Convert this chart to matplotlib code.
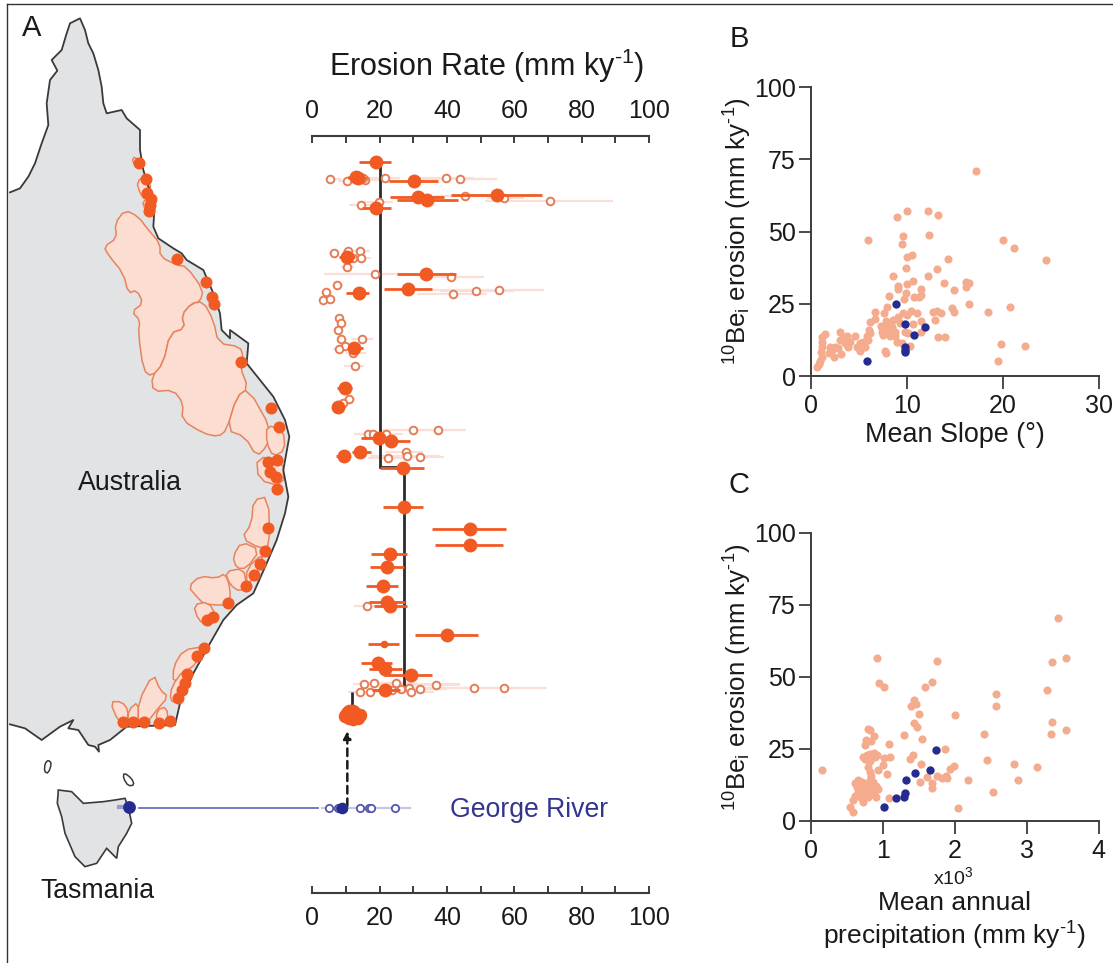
import matplotlib
matplotlib.use("Agg")
import matplotlib.pyplot as plt
from matplotlib.patches import Polygon

plt.rcParams['font.family'] = ['Liberation Sans', 'DejaVu Sans']
plt.rcParams['mathtext.default'] = 'regular'

# ---------- Panel A: filled sites (mean, low, high, row) ----------
fill_mean = [18.8,13.0,13.5,30.2,31.5,54.8,34.2,18.8,10.2,33.9,28.4,13.9,12.5,9.7,7.7,19.7,23.5,14.3,9.3,26.8,27.1,46.8,46.8,23.2,22.3,21.1,22.3,23.0,40.1,19.4,21.7,29.2,21.6]
fill_low  = [13.8,10.5,10.5,22.8,23.1,41.1,25.1,14.7,8.0,25.1,21.3,10.0,10.7,7.4,5.9,14.6,20.2,11.8,7.1,20.2,20.9,35.6,36.3,17.5,17.0,16.0,16.7,18.2,30.6,14.6,16.7,21.2,17.7]
fill_high = [23.3,15.5,16.0,37.2,39.2,68.2,43.2,23.3,12.7,42.7,35.5,16.9,15.2,11.7,9.5,24.5,29.1,17.4,11.3,33.1,32.9,57.5,56.5,28.1,27.1,25.6,27.6,28.1,49.1,23.7,26.6,35.5,26.1]
fill_row  = [162,177,178,181,197,195,200,208,257,274,289,293,348,388,407,438,441,452,456,468,507,529,545,554,567,586,602,606,635,663,669,675,690]

small_mean, small_low, small_high, small_row = [21.4], [16.6], [25.8], [644]

# Cluster of overlapping southern sites
cluster_mean = [9.8,10.4,11.0,11.6,12.2,12.8,14.2,10.8,12.0,13.6,11.4]
cluster_low  = [8.2,8.6,9.0,9.5,10.0,10.5,11.0,8.8,9.6,10.4,9.2]
cluster_high = [11.0,12.2,13.0,14.0,14.6,15.4,16.0,13.0,14.4,15.6,13.6]
cluster_row  = [716,713,711,711,711,713,715,718,719,718,715]

# ---------- Panel A: open sites ----------
open_mean = [5.2,10.3,15.8,15.0,21.6,39.8,43.9,45.4,57.0,70.7,14.6,19.9,6.3,10.7,14.2,14.5,12.2,10.4,18.6,41.1,7.3,4.1,3.3,5.2,41.8,48.7,55.4,7.9,8.4,7.6,8.6,14.9,9.8,7.9,12.2,12.7,11.0,9.2,16.6,18.0,21.9,29.9,37.2,27.7,28.1,22.4,32.1,16.2,15.4,18.3,25.0,36.6,14.1,17.0,26.4,28.6,29.4,32.1,23.7,47.9,57.0]
open_low  = [4.0,7.5,11.0,11.0,17.0,32.0,32.5,36.0,52.0,51.3,11.0,15.0,5.0,9.0,11.0,10.5,10.0,8.5,3.5,33.0,6.2,3.2,2.6,4.2,31.0,38.0,35.5,7.0,7.5,6.3,7.5,11.5,8.0,6.2,10.0,9.5,9.5,7.5,12.5,14.0,17.5,20.5,30.0,21.5,17.0,16.5,24.0,12.5,12.0,14.0,18.0,25.0,10.5,13.0,20.0,22.0,22.0,25.0,18.0,34.0,45.0]
open_high = [8.5,14.0,20.5,19.0,26.0,48.0,54.8,53.0,63.0,89.2,19.0,24.0,8.0,17.0,17.0,17.5,15.0,12.5,30.0,51.0,9.0,5.0,4.0,6.5,52.0,60.0,68.7,9.0,9.5,9.0,10.0,18.0,11.5,9.5,16.0,15.5,12.8,10.5,21.0,24.0,27.0,37.0,45.6,33.0,38.0,29.0,39.0,20.0,44.0,30.0,31.0,44.0,18.0,25.0,35.0,38.0,36.0,40.0,30.0,60.0,69.7]
open_row  = [179,181,180,178,178,178,179,196,198,201,205,202,253,251,251,258,258,267,274,277,285,292,300,299,294,291,290,318,323,330,339,339,346,349,353,366,399,403,434,434,434,430,430,452,456,458,457,606,684,683,683,685,692,692,689,688,692,689,690,688,688]

# ---------- George River ----------
george_open = [4.9,7.6,8.3,9.1,14.3,16.7,17.5,24.7]
george_fill = [8.8]
george_row = 808
george_whisker = [3.0, 29.0]

# ---------- Regional mean lines (value, row from, row to) ----------
mean_values = [20.2, 27.1, 11.8]
mean_tops = [165, 468, 692]
mean_bottoms = [467, 688, 712]

erosion_ticks = [0,20,40,60,80,100]
erosion_minor = [10,30,50,70,90]

# ---------- Panel B ----------
slope_other = [17.2,10.07,12.2,13.3,8.95,6.0,9.6,12.3,9.5,20.0,21.2,24.5,10.55,10.05,14.3,9.9,13.2,8.6,12.2,10.65,10.05,9.05,9.1,13.9,16.2,16.5,16.2,14.9,11.5,9.9,11.45,10.75,11.3,9.7,8.2,7.9,7.6,6.7,9.6,10.5,11.1,10.0,9.05,6.7,6.2,12.7,13.2,13.6,14.7,14.9,16.5,18.5,20.8,13.0,11.5,10.7,13.3,14.0,19.8,22.3,19.5,11.45,10.3,7.7,7.85,
  0.66,0.87,1.0,1.22,1.11,1.15,1.22,1.22,1.46,1.99,2.16,1.92,2.4,2.51,2.86,3.2,3.03,3.38,3.03,3.55,3.9,3.73,4.08,4.6,4.77,5.12,5.12,5.47,5.64,5.99,5.82,6.1,6.17,
  7.32,7.39,7.56,7.98,8.08,8.19,8.43,8.61,8.78,8.95,9.48,9.83,10.17,8.26,8.78,7.39,9.3,7.84]
erosion_b_other = [70.9,57.1,57.1,55.6,55.1,47.2,48.4,48.7,45.7,47.2,44.4,40.1,42.0,41.3,40.5,37.3,36.9,34.5,34.5,32.9,31.7,31.2,30.0,32.1,32.5,32.1,30.7,29.8,30.3,28.6,28.2,27.4,27.2,26.6,27.8,23.8,21.8,22.2,21.8,22.6,21.8,21.0,20.3,19.7,18.7,22.0,22.5,21.8,23.4,22.3,24.9,22.1,23.8,19.5,19.1,18.0,13.6,13.6,11.1,10.3,5.2,15.2,10.4,8.8,8.0,
  3.2,4.2,5.3,6.7,8.3,10.2,11.9,13.4,14.5,10.2,9.0,8.1,6.5,10.2,9.6,7.6,15.2,13.1,12.3,11.4,10.2,13.7,11.9,14.0,10.2,8.5,11.4,11.9,10.2,12.5,13.7,16.0,14.8,
  17.4,15.4,14.3,17.1,15.4,18.3,17.1,19.5,15.1,11.9,11.6,15.4,14.8,13.7,13.7,16.6,18.3,18.9]
slope_george = [8.85,9.8,11.9,10.8,9.8,9.8,9.8,5.85]
erosion_b_george = [25.0,17.9,17.0,14.3,10.0,9.0,8.3,5.2]

# ---------- Panel C ----------
precip_other = [3.43,3.55,3.35,0.92,1.76,0.95,1.02,1.68,1.59,3.28,2.57,2.57,1.44,1.46,1.39,1.51,2.0,1.44,1.47,3.35,3.55,3.34,2.41,1.29,1.54,1.09,1.86,1.42,1.38,1.1,1.02,2.45,2.82,3.14,1.99,1.94,1.53,1.76,1.62,1.83,1.89,1.88,1.52,2.18,2.88,1.69,1.68,2.53,2.04,1.09,0.16,1.06,0.94,1.0,
  0.8,0.83,0.77,0.88,0.84,0.75,0.54,0.58,
  0.73,0.78,0.82,0.88,0.92,0.75,0.80,0.84,0.89,0.82,0.79,0.82,
  0.61,0.66,0.71,0.64,0.68,0.73,0.77,0.82,0.84,0.87,0.91,0.66,0.71,0.75,0.80,0.84,0.89,0.94,0.61,0.68,0.75,0.80,0.73,0.59,0.84,0.90,0.64,0.88]
erosion_c_other = [70.6,56.6,55.1,56.6,55.5,47.9,46.6,48.3,46.6,45.5,44.0,39.9,41.9,40.7,39.9,37.2,36.7,34.0,32.7,34.3,31.5,30.3,30.0,29.7,28.4,26.7,24.8,22.9,21.6,22.1,21.7,21.2,19.7,18.5,19.0,18.0,19.7,15.7,15.3,15.0,14.7,15.6,13.6,14.1,14.1,13.0,11.5,10.1,4.5,7.8,17.7,16.2,17.7,19.3,
  32.0,31.5,27.9,29.3,27.7,26.2,4.65,3.1,
  22.3,22.7,23.3,23.5,23.0,21.5,21.2,21.9,22.1,20.7,18.6,16.9,
  13.0,14.0,13.4,11.6,11.6,12.2,12.8,14.0,15.7,13.4,12.2,9.9,9.9,10.5,11.0,11.0,11.6,11.0,8.7,8.1,8.7,8.1,6.4,7.2,9.3,8.1,12.8,9.3]
precip_george = [1.02,1.19,1.29,1.31,1.33,1.45,1.66,1.74]
erosion_c_george = [4.65,7.9,8.1,9.5,14.0,16.6,17.7,24.5]

yticks_be = [0,25,50,75,100]

# ---------- Map geometry, in reference pixels times three ----------
MAINLAND = [(30,577),(60,565),(85,530),(105,490),(125,430),(145,375),(140,310),(150,240),(172,212),(155,180),(185,150),(200,100),(210,70),(240,55),(255,90),(265,130),(280,160),(295,210),(305,260),(310,310),(320,340),(365,330),(380,355),(420,390),(420,450),(430,510),(445,560),(465,600),(460,680),(475,715),(520,745),(545,760),(560,780),(610,810),(640,880),(660,940),(665,990),(690,1015),(690,990),(745,1030),(740,1090),(780,1140),(820,1190),(855,1260),(868,1310),(850,1410),(865,1490),(855,1540),(830,1620),(800,1690),(760,1780),(710,1815),(670,1860),(630,1930),(580,2020),(540,2110),(525,2175),(380,2180),(330,2220),(295,2235),(297,2255),(285,2240),(265,2235),(235,2190),(205,2185),(220,2160),(180,2180),(125,2220),(75,2185),(30,2173)]
TASMANIA = [(175,2370),(215,2375),(250,2410),(310,2405),(345,2400),(375,2395),(385,2422),(395,2470),(380,2500),(355,2540),(350,2575),(320,2545),(290,2590),(255,2600),(225,2570),(195,2500),(185,2450),(172,2410)]
ISLANDS = [[(145,2280),(155,2290),(145,2320),(133,2315),(135,2290)],[(372,2318),(395,2335),(403,2355),(385,2358),(370,2335)]]
CATCHMENTS = [
 [(375,630),(415,650),(445,690),(480,730),(480,770),(530,795),(560,800),(610,870),(600,905),(575,910),(545,945),(555,985),(510,1000),(490,1090),(455,1130),(430,1110),(415,1000),(420,960),(395,935),(430,910),(410,870),(385,880),(370,820),(325,765),(312,740),(350,715),(345,670)],
 [(575,910),(610,905),(640,960),(655,1030),(720,1040),(730,1070),(720,1100),(745,1165),(710,1190),(680,1290),(655,1310),(610,1300),(545,1260),(550,1210),(520,1170),(460,1175),(455,1130),(490,1090),(510,1000),(555,985),(545,945)],
 [(745,1165),(815,1290),(800,1340),(770,1370),(735,1310),(680,1290),(710,1190)],
 [(800,1275),(850,1290),(855,1350),(820,1370),(800,1330)],
 [(770,1370),(850,1380),(850,1460),(775,1440)],
 [(395,485),(405,468),(430,500),(420,505)],
 [(410,545),(440,525),(455,570),(435,600),(420,580)],
 [(425,600),(465,600),(460,645),(440,640)],
 [(760,1500),(805,1490),(810,1640),(780,1645),(725,1615),(755,1570)],
 [(725,1625),(780,1650),(740,1705),(710,1705),(698,1670)],
 [(675,1715),(730,1705),(740,1755),(720,1775),(690,1755)],
 [(740,1705),(790,1660),(780,1700),(755,1740),(740,1755)],
 [(565,1760),(600,1728),(650,1735),(675,1720),(690,1760),(690,1815),(640,1815),(610,1810),(590,1790)],
 [(580,1815),(625,1805),(650,1850),(620,1875),(595,1860)],
 [(520,2000),(550,1950),(610,1940),(590,1990),(550,2020),(520,2050)],
 [(515,2060),(550,2010),(570,2020),(545,2080),(530,2110),(510,2100)],
 [(330,2105),(365,2105),(385,2130),(380,2170),(355,2165)],
 [(385,2130),(415,2105),(415,2170),(385,2170)],
 [(415,2105),(460,2020),(480,2070),(505,2090),(470,2130),(440,2170),(415,2170)],
 [(470,2130),(500,2120),(505,2170),(470,2175)],
]
MAP_SITES = [(418,490),(438,538),(440,578),(452,598),(450,615),(448,632),(530,778),(618,845),(635,892),(642,912),(722,1085),(814,1224),(836,1282),(805,1385),(830,1380),(810,1415),(828,1432),(832,1467),(804,1585),(795,1653),(780,1693),(762,1725),(738,1757),(684,1809),(640,1850),(620,1860),(613,1945),(590,1968),(560,2022),(555,2050),(545,2070),(535,2095),(370,2165),(400,2165),(433,2165),(478,2168),(510,2162)]
MAP_GEORGE = (386,2422)

# ---------- Styling ----------
W, H = 1113, 963
ORANGE = '#F15A22'; OPEN_EDGE = '#E57C56'; LIGHT = '#F9DFD5'; SALMON = '#F4AB8E'
BLUE = '#262B8F'; TEXT = '#1A1A1A'; AXIS = '#3C3C3C'
LABEL_PT = 19.3; TICK_PT = 18.0
SUP = '$^{\u20101}$'

fig = plt.figure(figsize=(W/100, H/100), dpi=100, facecolor='white')

def rect(x0, x1, ytop, ybot):
    return [x0/W, 1-ybot/H, (x1-x0)/W, (ybot-ytop)/H]

def rounded(pts):
    out = []
    n = len(pts)
    for i in range(n):
        (x0, y0), (x1, y1) = pts[i], pts[(i+1) % n]
        out.append((0.75*x0+0.25*x1, 0.75*y0+0.25*y1))
        out.append((0.25*x0+0.75*x1, 0.25*y0+0.75*y1))
    return out

# Map layer in reference-pixel coordinates
bg = fig.add_axes([0,0,1,1], zorder=0)
bg.set_xlim(0, W); bg.set_ylim(H, 0); bg.axis('off')
scale = lambda pts: [(x/3, y/3) for x, y in pts]
bg.plot([7,7],[4.5,H], color='#333333', lw=1.0)
bg.plot([7,W],[4.5,4.5], color='#333333', lw=1.0)
main_pts = scale(MAINLAND)
bg.add_patch(Polygon(main_pts+[(9,main_pts[-1][1]),(9,main_pts[0][1])], closed=True, fc='#E1E3E5', ec='none'))
bg.plot([p[0] for p in main_pts], [p[1] for p in main_pts], color='#3A3A3A', lw=1.3)
bg.add_patch(Polygon(scale(TASMANIA), closed=True, fc='#E1E3E5', ec='#3A3A3A', lw=1.2))
for isl in ISLANDS:
    bg.add_patch(Polygon(scale(rounded(isl)), closed=True, fc='white', ec='#3A3A3A', lw=1.1))
for c in CATCHMENTS:
    bg.add_patch(Polygon(scale(rounded(c)), closed=True, fc='#FBDDD1', ec='#E8835E', lw=1.1))
sx = [p[0]/3 for p in MAP_SITES]; sy = [p[1]/3 for p in MAP_SITES]
bg.scatter(sx, sy, s=75, color=ORANGE, lw=0, zorder=5)
gx, gy = MAP_GEORGE[0]/3, MAP_GEORGE[1]/3
bg.plot([gx-10, gx],[gy, gy], color='#9A9BD0', lw=3, zorder=5)
bg.scatter([gx],[gy], s=85, color=BLUE, lw=0, zorder=6)
bg.plot([139, 318],[george_row, george_row], color='#6D70BC', lw=1.3)

# Panel A erosion axis: the y axis is the site row, running top to bottom
ax = fig.add_axes(rect(312.3, 649, 135.7, 893), zorder=2)
ax.set_facecolor('none')
ax.set_xlim(0, 100); ax.set_ylim(893, 135.7)
for s in ('left','right'):
    ax.spines[s].set_visible(False)
for s in ('top','bottom'):
    ax.spines[s].set_color(AXIS); ax.spines[s].set_linewidth(1.5)
ax.set_yticks([])
ax.set_xticks(erosion_ticks); ax.set_xticklabels([str(v) for v in erosion_ticks])
ax.set_xticks(erosion_minor, minor=True)
ax.tick_params(axis='x', which='both', top=True, bottom=True, labeltop=True, labelbottom=True,
               direction='in', width=1.4, length=5, color=AXIS, labelsize=TICK_PT, labelcolor=TEXT, pad=9)

for lo, hi, r in zip(open_low, open_high, open_row):
    ax.plot([lo, hi],[r, r], color=LIGHT, lw=1.6, zorder=1, solid_capstyle='butt')
for v, a, b in zip(mean_values, mean_tops, mean_bottoms):
    ax.plot([v, v],[a, b], color='#2B2B2B', lw=2.0, zorder=2, solid_capstyle='butt')
ax.plot([mean_values[0], mean_values[1]],[mean_bottoms[0], mean_bottoms[0]], color='#2B2B2B', lw=2.0, zorder=2)
ax.scatter(open_mean, open_row, s=30, facecolor='white', edgecolor=OPEN_EDGE, linewidth=1.4, zorder=3)
for lo, hi, r in zip(fill_low+small_low+cluster_low, fill_high+small_high+cluster_high, fill_row+small_row+cluster_row):
    ax.plot([lo, hi],[r, r], color=ORANGE, lw=2.0, zorder=4, solid_capstyle='butt')
ax.scatter(fill_mean, fill_row, s=100, color=ORANGE, lw=0, zorder=5)
ax.scatter(small_mean, small_row, s=30, color=ORANGE, lw=0, zorder=5)
ax.scatter(cluster_mean, cluster_row, s=95, color=ORANGE, lw=0, zorder=5)

ax.plot(george_whisker, [george_row, george_row], color='#C6C7E6', lw=1.6, zorder=1)
ax.scatter(george_open, [george_row]*len(george_open), s=28, facecolor='white', edgecolor='#5557AE', linewidth=1.3, zorder=3)
ax.scatter(george_fill, [george_row], s=70, color=BLUE, lw=0, zorder=4)
ax.annotate('', xy=(10.4, 731), xytext=(10.4, 806),
            arrowprops=dict(arrowstyle='-|>', linestyle=(0,(3,2)), color='#1A1A1A', lw=1.8, shrinkA=0, shrinkB=0, mutation_scale=11))

def scatter_panel(ytop, ybot, xs, ys, gxs, gys, xticks):
    a = fig.add_axes(rect(810.8, 1098.5, ytop, ybot), zorder=2)
    a.set_facecolor('none')
    a.set_xlim(xticks[0], xticks[-1]); a.set_ylim(0, 100)
    for s in ('top','right'):
        a.spines[s].set_visible(False)
    for s in ('left','bottom'):
        a.spines[s].set_color(AXIS); a.spines[s].set_linewidth(1.4)
    a.set_xticks(xticks); a.set_yticks(yticks_be)
    a.tick_params(width=1.3, length=9, color=AXIS, labelsize=TICK_PT, labelcolor=TEXT, pad=2)
    a.tick_params(axis='x', pad=4)
    a.scatter(xs, ys, s=34, color=SALMON, lw=0, zorder=3, clip_on=False)
    a.scatter(gxs, gys, s=36, color=BLUE, lw=0, zorder=4, clip_on=False)
    return a

scatter_panel(87.3, 376, slope_other, erosion_b_other, slope_george, erosion_b_george, [0,10,20,30])
scatter_panel(533, 820.7, precip_other, erosion_c_other, precip_george, erosion_c_george, [0,1,2,3,4])

def txt(x, y, s, size=LABEL_PT, **kw):
    kw.setdefault('ha','center'); kw.setdefault('va','center'); kw.setdefault('color',TEXT)
    bg.text(x, y, s, fontsize=size, **kw)

txt(32, 28, 'A', size=21)
txt(739, 39, 'B', size=21)
txt(739, 485, 'C', size=21)
txt(487, 66, 'Erosion Rate (mm ky' + SUP + ')', size=22)
txt(130, 483, 'Australia', size=19.3)
txt(97, 891, 'Tasmania', size=19.2)
txt(529, 810, 'George River', size=19.2, color='#33358F')
txt(955, 435, 'Mean Slope (°)', size=19.4)
txt(953, 877, 'x10$^{3}$', size=14)
txt(954, 903, 'Mean annual', size=19)
txt(954, 936, 'precipitation (mm ky' + SUP + ')', size=19)
ylab = '$^{10}$Be$_{i}$ erosion (mm ky' + SUP + ')'
txt(738, 231, ylab, size=18.6, rotation=90)
txt(738, 677, ylab, size=18.6, rotation=90)

fig.savefig('out.png', dpi=100)
